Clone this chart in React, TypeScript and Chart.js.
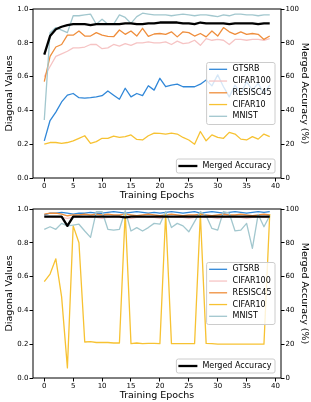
import React, { useEffect, useRef } from "react";
import { Chart, registerables } from "chart.js";

Chart.register(...registerables);

// ---------- data ----------
const epochs = [0, 1, 2, 3, 4, 5, 6, 7, 8, 9, 10, 11, 12, 13, 14, 15, 16, 17, 18, 19, 20, 21, 22, 23, 24, 25, 26, 27, 28, 29, 30, 31, 32, 33, 34, 35, 36, 37, 38, 39];
const xTickValues = [0, 5, 10, 15, 20, 25, 30, 35, 40];
const leftTickValues = [0, 0.2, 0.4, 0.6, 0.8, 1.0];
const rightTickValues = [0, 20, 40, 60, 80, 100];

const seriesNames = ["GTSRB", "CIFAR100", "RESISC45", "CIFAR10", "MNIST"];
const mergedName = "Merged Accuracy";
const xTitle = "Training Epochs";
const leftTitle = "Diagonal Values";
const rightTitle = "Merged Accuracy (%)";

// top panel
const topGTSRB = [0.22, 0.34, 0.39, 0.45, 0.49, 0.50, 0.475, 0.473, 0.475, 0.48, 0.487, 0.515, 0.49, 0.466, 0.531, 0.48, 0.50, 0.487, 0.546, 0.52, 0.59, 0.54, 0.55, 0.555, 0.54, 0.54, 0.54, 0.555, 0.58, 0.545, 0.61, 0.54, 0.48, 0.55, 0.50, 0.57, 0.52, 0.56, 0.50, 0.55];
const topCIFAR100 = [0.60, 0.66, 0.72, 0.735, 0.75, 0.77, 0.77, 0.775, 0.79, 0.79, 0.765, 0.77, 0.79, 0.78, 0.795, 0.785, 0.80, 0.80, 0.805, 0.80, 0.80, 0.805, 0.79, 0.81, 0.795, 0.80, 0.815, 0.785, 0.825, 0.815, 0.82, 0.815, 0.79, 0.82, 0.82, 0.815, 0.82, 0.82, 0.815, 0.825];
const topRESISC45 = [0.57, 0.72, 0.775, 0.79, 0.845, 0.845, 0.87, 0.84, 0.84, 0.86, 0.845, 0.838, 0.836, 0.876, 0.85, 0.87, 0.84, 0.886, 0.838, 0.852, 0.855, 0.85, 0.865, 0.835, 0.865, 0.86, 0.84, 0.855, 0.835, 0.87, 0.84, 0.89, 0.865, 0.85, 0.865, 0.85, 0.855, 0.85, 0.82, 0.84];
const topCIFAR10 = [0.20, 0.21, 0.21, 0.205, 0.21, 0.22, 0.235, 0.25, 0.205, 0.215, 0.235, 0.235, 0.248, 0.24, 0.245, 0.255, 0.228, 0.225, 0.25, 0.265, 0.264, 0.26, 0.265, 0.26, 0.24, 0.225, 0.20, 0.275, 0.22, 0.255, 0.24, 0.235, 0.27, 0.26, 0.23, 0.225, 0.245, 0.23, 0.26, 0.245];
const topMNIST = [0.343, 0.86, 0.89, 0.875, 0.86, 0.96, 0.96, 0.965, 0.97, 0.91, 0.94, 0.91, 0.91, 0.965, 0.95, 0.915, 0.955, 0.975, 0.97, 0.965, 0.965, 0.965, 0.96, 0.965, 0.97, 0.965, 0.96, 0.965, 0.965, 0.96, 0.955, 0.965, 0.96, 0.97, 0.97, 0.965, 0.965, 0.96, 0.965, 0.965];
const topMerged = [73, 84, 88, 89.5, 90.5, 91, 91, 91, 90.5, 91, 91, 91, 91, 91, 91.5, 91.5, 91, 91, 91.5, 91.5, 92, 92, 92, 92, 91.5, 91.5, 91, 92, 91.5, 91.5, 91.5, 91.5, 91, 91.5, 91.5, 91.5, 91.5, 91, 91.5, 91.5];

// bottom panel
const botGTSRB = [0.965, 0.975, 0.975, 0.98, 0.975, 0.97, 0.975, 0.975, 0.98, 0.975, 0.975, 0.98, 0.985, 0.98, 0.975, 0.98, 0.985, 0.98, 0.975, 0.98, 0.975, 0.98, 0.985, 0.98, 0.975, 0.98, 0.985, 0.975, 0.98, 0.985, 0.98, 0.975, 0.98, 0.985, 0.98, 0.975, 0.98, 0.985, 0.98, 0.985];
const botCIFAR100 = [0.955, 0.955, 0.95, 0.95, 0.945, 0.95, 0.95, 0.955, 0.95, 0.95, 0.945, 0.95, 0.955, 0.95, 0.95, 0.945, 0.95, 0.955, 0.95, 0.95, 0.945, 0.95, 0.955, 0.95, 0.95, 0.945, 0.95, 0.955, 0.95, 0.95, 0.945, 0.95, 0.955, 0.95, 0.95, 0.945, 0.95, 0.955, 0.95, 0.95];
const botRESISC45 = [0.97, 0.975, 0.975, 0.97, 0.96, 0.965, 0.965, 0.97, 0.965, 0.97, 0.965, 0.97, 0.965, 0.965, 0.97, 0.965, 0.96, 0.965, 0.97, 0.965, 0.96, 0.965, 0.97, 0.965, 0.96, 0.965, 0.965, 0.97, 0.965, 0.96, 0.965, 0.97, 0.965, 0.965, 0.97, 0.965, 0.96, 0.965, 0.97, 0.965];
const botCIFAR10 = [0.57, 0.615, 0.705, 0.48, 0.06, 0.90, 0.80, 0.213, 0.215, 0.21, 0.21, 0.21, 0.207, 0.207, 0.98, 0.203, 0.207, 0.203, 0.205, 0.205, 0.203, 0.97, 0.203, 0.203, 0.203, 0.203, 0.203, 0.97, 0.205, 0.203, 0.2, 0.2, 0.2, 0.2, 0.2, 0.2, 0.2, 0.2, 0.2, 0.97];
const botMNIST = [0.88, 0.895, 0.88, 0.915, 0.90, 0.905, 0.91, 0.87, 0.832, 0.985, 0.985, 0.88, 0.875, 0.88, 0.99, 0.87, 0.89, 0.87, 0.89, 0.915, 0.91, 0.985, 0.89, 0.915, 0.90, 0.865, 0.925, 0.985, 0.96, 0.885, 0.875, 0.985, 0.975, 0.87, 0.875, 0.915, 0.767, 0.968, 0.895, 0.96];
const botMerged = [95.5, 95.5, 95.5, 95.5, 90, 95.5, 95.5, 95.5, 95.5, 95.5, 95.5, 95.5, 95.5, 95.5, 95, 95.5, 95.5, 95.5, 95.5, 95.5, 95.5, 95.5, 95.5, 95.5, 95.5, 95.5, 95.5, 95.5, 95.5, 95.5, 95.5, 95.5, 95.5, 95.5, 95.5, 95.5, 95.5, 95.5, 95.5, 95.5];

// ---------- styles ----------
const seriesColors = ["#3087d8", "#f6c4c4", "#ef8e3c", "#f7c232", "#a2c7ce"];
const FONT = '"DejaVu Sans", sans-serif';
const SERIES_LW = 1.3;
const MERGED_LW = 2.3;

function roundRectPath(ctx: CanvasRenderingContext2D, x: number, y: number, w: number, h: number, r: number) {
  ctx.beginPath();
  ctx.moveTo(x + r, y);
  ctx.lineTo(x + w - r, y);
  ctx.arcTo(x + w, y, x + w, y + r, r);
  ctx.lineTo(x + w, y + h - r);
  ctx.arcTo(x + w, y + h, x + w - r, y + h, r);
  ctx.lineTo(x + r, y + h);
  ctx.arcTo(x, y + h, x, y + h - r, r);
  ctx.lineTo(x, y + r);
  ctx.arcTo(x, y, x + r, y, r);
  ctx.closePath();
}

const overlayPlugin = {
  id: "overlay",
  afterDraw(chart: any) {
    const { ctx, chartArea: a } = chart;
    ctx.save();
    // frame (spines)
    ctx.strokeStyle = "#000";
    ctx.lineWidth = 1;
    ctx.strokeRect(a.left, a.top, a.right - a.left, a.bottom - a.top);

    ctx.font = `8px ${FONT}`;
    ctx.textBaseline = "middle";
    ctx.textAlign = "left";

    // legend 1 (center right)
    const widths = seriesNames.map((n) => ctx.measureText(n).width);
    const maxW = Math.max(...widths);
    const w1 = 2.5 + 18 + 5.5 + maxW + 3.5;
    const h1 = 62;
    const right1 = a.right - 6;
    const left1 = right1 - w1;
    const top1 = (a.top + a.bottom) / 2 - h1 / 2;
    roundRectPath(ctx, left1, top1, w1, h1, 2);
    ctx.fillStyle = "rgba(255,255,255,0.8)";
    ctx.fill();
    ctx.strokeStyle = "#cccccc";
    ctx.lineWidth = 1;
    ctx.stroke();
    seriesNames.forEach((n, i) => {
      const cy = top1 + 6.8 + i * 11.75;
      ctx.strokeStyle = seriesColors[i];
      ctx.lineWidth = SERIES_LW;
      ctx.beginPath();
      ctx.moveTo(left1 + 2.5, cy);
      ctx.lineTo(left1 + 20.5, cy);
      ctx.stroke();
      ctx.fillStyle = "#000";
      ctx.fillText(n, left1 + 26, cy);
    });

    // legend 2 (lower right)
    const mw = ctx.measureText(mergedName).width;
    const w2 = 2 + 19 + 5 + mw + 3.5;
    const h2 = 14;
    const right2 = a.right - 6;
    const left2 = right2 - w2;
    const top2 = a.bottom - 5 - h2;
    roundRectPath(ctx, left2, top2, w2, h2, 2);
    ctx.fillStyle = "rgba(255,255,255,0.8)";
    ctx.fill();
    ctx.strokeStyle = "#cccccc";
    ctx.lineWidth = 1;
    ctx.stroke();
    const cy2 = top2 + h2 / 2;
    ctx.strokeStyle = "#000";
    ctx.lineWidth = MERGED_LW;
    ctx.beginPath();
    ctx.moveTo(left2 + 2, cy2);
    ctx.lineTo(left2 + 21, cy2);
    ctx.stroke();
    ctx.fillStyle = "#000";
    ctx.fillText(mergedName, left2 + 26, cy2);

    ctx.restore();
  },
};

function buildConfig(series: number[][], merged: number[]): any {
  const datasets: any[] = [
    {
      label: mergedName,
      data: epochs.map((e, i) => ({ x: e, y: merged[i] })),
      yAxisID: "yR",
      borderColor: "#000",
      borderWidth: MERGED_LW,
      order: 0,
    },
    ...series.map((s, k) => ({
      label: seriesNames[k],
      data: epochs.map((e, i) => ({ x: e, y: s[i] })),
      yAxisID: "y",
      borderColor: seriesColors[k],
      borderWidth: SERIES_LW,
      order: 5 - k,
    })),
  ].map((d) => ({ ...d, pointRadius: 0, fill: false, tension: 0, borderJoinStyle: "round" }));

  const tickFont = { family: FONT, size: 7 };
  const titleFont = { family: FONT, size: 9.5 };
  const grid = { drawOnChartArea: false, drawTicks: true, tickLength: 3.5, tickColor: "#000", tickWidth: 1 };

  return {
    type: "line",
    data: { datasets },
    options: {
      animation: false,
      responsive: false,
      devicePixelRatio: 1,
      events: [],
      layout: { padding: { top: 9, left: 0, right: 0, bottom: 0 } },
      plugins: { legend: { display: false }, tooltip: { enabled: false } },
      scales: {
        x: {
          type: "linear",
          min: -1.95,
          max: 40.95,
          afterBuildTicks: (s: any) => {
            s.ticks = xTickValues.map((v) => ({ value: v }));
          },
          afterFit: (s: any) => {
            s.height = 23;
          },
          ticks: { font: tickFont, color: "#000", padding: 0, maxRotation: 0, autoSkip: false, callback: (v: any) => String(v) },
          grid,
          border: { display: false },
          title: { display: true, text: xTitle, font: titleFont, color: "#000", padding: { top: 0, bottom: -0.5 } },
        },
        y: {
          type: "linear",
          position: "left",
          min: 0,
          max: 1,
          afterBuildTicks: (s: any) => {
            s.ticks = leftTickValues.map((v) => ({ value: v }));
          },
          afterFit: (s: any) => {
            s.width = 33;
          },
          ticks: { font: tickFont, color: "#000", padding: 1, callback: (v: any) => Number(v).toFixed(1) },
          grid,
          border: { display: false },
          title: { display: true, text: leftTitle, font: titleFont, color: "#000", padding: { top: 4, bottom: 0 } },
        },
        yR: {
          type: "linear",
          position: "right",
          min: 0,
          max: 100,
          afterBuildTicks: (s: any) => {
            s.ticks = rightTickValues.map((v) => ({ value: v }));
          },
          afterFit: (s: any) => {
            s.width = 30;
          },
          ticks: { font: tickFont, color: "#000", padding: 1, callback: (v: any) => String(v) },
          grid,
          border: { display: false },
          title: { display: true, text: rightTitle, font: titleFont, color: "#000", padding: { top: 1.3, bottom: 0 } },
        },
      },
    },
    plugins: [overlayPlugin],
  };
}

function Panel({ series, merged, top }: { series: number[][]; merged: number[]; top: number }) {
  const ref = useRef<HTMLCanvasElement | null>(null);
  useEffect(() => {
    if (!ref.current) return;
    const chart = new Chart(ref.current, buildConfig(series, merged));
    return () => chart.destroy();
  }, [series, merged]);
  return (
    <canvas
      ref={ref}
      width={311}
      height={201}
      style={{ position: "absolute", left: 0, top, width: 311, height: 201 }}
    />
  );
}

const topSeries = [topGTSRB, topCIFAR100, topRESISC45, topCIFAR10, topMNIST];
const botSeries = [botGTSRB, botCIFAR100, botRESISC45, botCIFAR10, botMNIST];

export default function App() {
  return (
    <div style={{ position: "absolute", left: 0, top: 0, width: 311, height: 402, background: "#fff" }}>
      <Panel series={topSeries} merged={topMerged} top={0} />
      <Panel series={botSeries} merged={botMerged} top={200} />
    </div>
  );
}
